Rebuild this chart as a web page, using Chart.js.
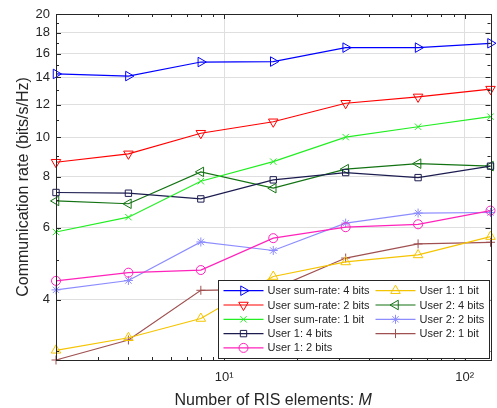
<!DOCTYPE html>
<html>
<head>
<meta charset="utf-8">
<script src="https://cdn.jsdelivr.net/npm/chart.js@4/dist/chart.umd.min.js"></script>
<style>
	html, body { margin: 0; padding: 0; background: #fff; }
	#wrap { width: 497px; height: 408px; }
</style>
</head>
<body>
<div id="wrap"><canvas id="myChart"></canvas></div>
<script>
// number of RIS elements (x) and rates (bits/s/Hz)
const mValues = [2, 4, 8, 16, 32, 64, 128];
const sumRate4 = [14.27, 14.1, 15.26, 15.3, 16.55, 16.55, 16.96];
const sumRate2 = [8.68, 9.1, 10.22, 10.9, 12.1, 12.54, 13.1];
const sumRate1 = [5.86, 6.37, 7.8, 8.71, 10.0, 10.6, 11.22];
const user1Bits4 = [7.32, 7.29, 7.06, 7.86, 8.19, 7.96, 8.49];
const user1Bits2 = [4.45, 4.66, 4.73, 5.66, 6.02, 6.12, 6.61];
const user1Bits1 = [3.01, 3.23, 3.6, 4.56, 4.95, 5.15, 5.71];
const user2Bits4 = [6.98, 6.87, 8.22, 7.5, 8.35, 8.61, 8.49];
const user2Bits2 = [4.23, 4.46, 5.54, 5.28, 6.16, 6.52, 6.54];
const user2Bits1 = [2.85, 3.19, 4.22, 4.25, 5.06, 5.48, 5.53];

// axis ticks
const yTickLabels = [4, 6, 8, 10, 12, 14, 16, 18, 20];
const yMinorTicks = [3, 4, 5, 6, 7, 8, 9, 10, 11, 12, 13, 14, 15, 16, 17, 18, 19, 20];
const xMajorTicks = [10, 100];
const xMinorTicks = [2, 3, 4, 5, 6, 7, 8, 9, 10, 20, 30, 40, 50, 60, 70, 80, 90, 100];
const xTickText = { 10: '10\u00b9', 100: '10\u00b2' };

const FONT = '"Liberation Sans", Arial, Helvetica, sans-serif';
const AXIS_COLOR = '#262626';

var series = [
	{ label: 'User sum-rate: 4 bits', values: sumRate4, color: '#0000ff', style: 'triangle', rot: 90, r: 5.5 },
	{ label: 'User sum-rate: 2 bits', values: sumRate2, color: '#ff0000', style: 'triangle', rot: 180, r: 5.5 },
	{ label: 'User sum-rate: 1 bit', values: sumRate1, color: '#22ee22', style: 'crossRot', rot: 0, r: 4.5 },
	{ label: 'User 1: 4 bits', values: user1Bits4, color: '#1c1c50', style: 'rect', rot: 0, r: 4.5 },
	{ label: 'User 1: 2 bits', values: user1Bits2, color: '#ff22bb', style: 'circle', rot: 0, r: 4.5 },
	{ label: 'User 1: 1 bit', values: user1Bits1, color: '#f5c400', style: 'triangle', rot: 0, r: 5.5 },
	{ label: 'User 2: 4 bits', values: user2Bits4, color: '#137313', style: 'triangle', rot: 270, r: 5.5 },
	{ label: 'User 2: 2 bits', values: user2Bits2, color: '#8c8cff', style: 'star', rot: 0, r: 4.5 },
	{ label: 'User 2: 1 bit', values: user2Bits1, color: '#a05050', style: 'cross', rot: 0, r: 4.5 },
];

var datasets = series.map(function (s) {
	return {
		label: s.label,
		data: mValues.map(function (m, i) { return { x: m, y: s.values[i] }; }),
		borderColor: s.color,
		backgroundColor: 'rgba(0,0,0,0)',
		borderWidth: 1.2,
		pointStyle: s.style,
		rotation: s.rot,
		pointRadius: s.r,
		pointBorderWidth: 1,
		pointBorderColor: s.color,
		pointBackgroundColor: 'rgba(0,0,0,0)',
		tension: 0,
		clip: false,
	};
});

// box, inner tick marks and axis titles, drawn the matlab way
var framePlugin = {
	id: 'frame',
	afterDatasetsDraw: function (chart) {
		var ctx = chart.ctx;
		var a = chart.chartArea;
		var xs = chart.scales.x;
		var ys = chart.scales.y;
		ctx.save();
		ctx.strokeStyle = AXIS_COLOR;
		ctx.lineWidth = 1;
		ctx.beginPath();
		xMinorTicks.forEach(function (v) {
			var px = Math.round(xs.getPixelForValue(v)) + 0.5;
			var len = xMajorTicks.indexOf(v) >= 0 ? 5 : 3;
			ctx.moveTo(px, a.bottom); ctx.lineTo(px, a.bottom - len);
			ctx.moveTo(px, a.top); ctx.lineTo(px, a.top + len);
		});
		yMinorTicks.forEach(function (v) {
			var py = Math.round(ys.getPixelForValue(v)) + 0.5;
			var len = yTickLabels.indexOf(v) >= 0 ? 5 : 3;
			ctx.moveTo(a.left, py); ctx.lineTo(a.left + len, py);
			ctx.moveTo(a.right, py); ctx.lineTo(a.right - len, py);
		});
		ctx.stroke();
		ctx.strokeRect(Math.round(a.left) + 0.5, Math.round(a.top) + 0.5,
			Math.round(a.right - a.left), Math.round(a.bottom - a.top));

		// axis titles
		ctx.fillStyle = AXIS_COLOR;
		ctx.textBaseline = 'alphabetic';
		ctx.font = '16px ' + FONT;
		var t1 = 'Number of RIS elements: ';
		var w1 = ctx.measureText(t1).width;
		ctx.font = 'italic 16px ' + FONT;
		var w2 = ctx.measureText('M').width;
		var cx = (a.left + a.right) / 2;
		var x0 = cx - (w1 + w2) / 2;
		ctx.textAlign = 'left';
		ctx.font = '16px ' + FONT;
		ctx.fillText(t1, x0, 405);
		ctx.font = 'italic 16px ' + FONT;
		ctx.fillText('M', x0 + w1, 405);

		ctx.translate(28, (a.top + a.bottom) / 2);
		ctx.rotate(-Math.PI / 2);
		ctx.textAlign = 'center';
		ctx.font = '16px ' + FONT;
		ctx.fillText('Communication rate (bits/s/Hz)', 0, 0);
		ctx.restore();
	},
};

// two column legend, filled column by column
var legendPlugin = {
	id: 'colLegend',
	afterDraw: function (chart) {
		var ctx = chart.ctx;
		var a = chart.chartArea;
		var w = 271, h = 78;
		var left = Math.round(a.right - 1.5 - w) + 0.5;
		var top = Math.round(a.bottom - 2 - h) + 0.5;
		ctx.save();
		ctx.fillStyle = '#ffffff';
		ctx.fillRect(left, top, w, h);
		ctx.strokeStyle = AXIS_COLOR;
		ctx.lineWidth = 1;
		ctx.strokeRect(left, top, w, h);
		ctx.font = '11px ' + FONT;
		ctx.textBaseline = 'middle';
		ctx.textAlign = 'left';
		series.forEach(function (s, i) {
			var col = i < 5 ? 0 : 1;
			var row = col ? i - 5 : i;
			var bx = left + (col ? 157 : 5);
			var by = top + 10.2 + row * 14.3;
			ctx.strokeStyle = s.color;
			ctx.lineWidth = 1.2;
			ctx.beginPath();
			ctx.moveTo(bx, by);
			ctx.lineTo(bx + 40, by);
			ctx.stroke();
			ctx.fillStyle = 'rgba(0,0,0,0)';
			ctx.lineWidth = 1;
			Chart.helpers.drawPoint(ctx, {
				pointStyle: s.style,
				rotation: s.rot,
				radius: s.r,
				borderWidth: 1,
			}, bx + 20, by);
			ctx.fillStyle = AXIS_COLOR;
			ctx.fillText(s.label, bx + 44, by + 0.5);
		});
		ctx.restore();
	},
};

var ctx = document.getElementById('myChart').getContext('2d');
var myChart = new Chart(ctx, {
	type: 'line',
	data: { datasets: datasets },
	plugins: [framePlugin, legendPlugin],
	options: {
		responsive: true,
		maintainAspectRatio: false,
		animation: false,
		layout: { padding: { top: 14, right: 1.5, left: 0, bottom: 0 } },
		plugins: {
			legend: { display: false },
			tooltip: { enabled: false },
		},
		scales: {
			x: {
				type: 'logarithmic',
				min: 2,
				max: 128,
				afterBuildTicks: function (scale) {
					scale.ticks = xMinorTicks.map(function (v) { return { value: v }; });
				},
				afterFit: function (scale) { scale.height = 48; },
				ticks: {
					autoSkip: false,
					maxRotation: 0,
					padding: 10,
					color: AXIS_COLOR,
					font: { family: FONT, size: 13 },
					callback: function (value) { return xTickText[value] || ''; },
				},
				border: { display: false },
				grid: {
					drawTicks: false,
					color: function (c) {
						return c.tick && xMajorTicks.indexOf(c.tick.value) >= 0 ? '#dfdfdf' : 'rgba(0,0,0,0)';
					},
				},
			},
			y: {
				type: 'logarithmic',
				min: 2.85,
				max: 20,
				afterBuildTicks: function (scale) {
					scale.ticks = yMinorTicks.map(function (v) { return { value: v }; });
				},
				afterFit: function (scale) { scale.width = 56; },
				ticks: {
					autoSkip: false,
					padding: 6,
					color: AXIS_COLOR,
					font: { family: FONT, size: 13 },
					callback: function (value) {
						return yTickLabels.indexOf(value) >= 0 ? String(value) : '';
					},
				},
				border: { display: false },
				grid: {
					drawTicks: false,
					color: function (c) {
						return c.tick && yTickLabels.indexOf(c.tick.value) >= 0 ? '#dfdfdf' : 'rgba(0,0,0,0)';
					},
				},
			},
		},
	},
});
</script>
</body>
</html>
